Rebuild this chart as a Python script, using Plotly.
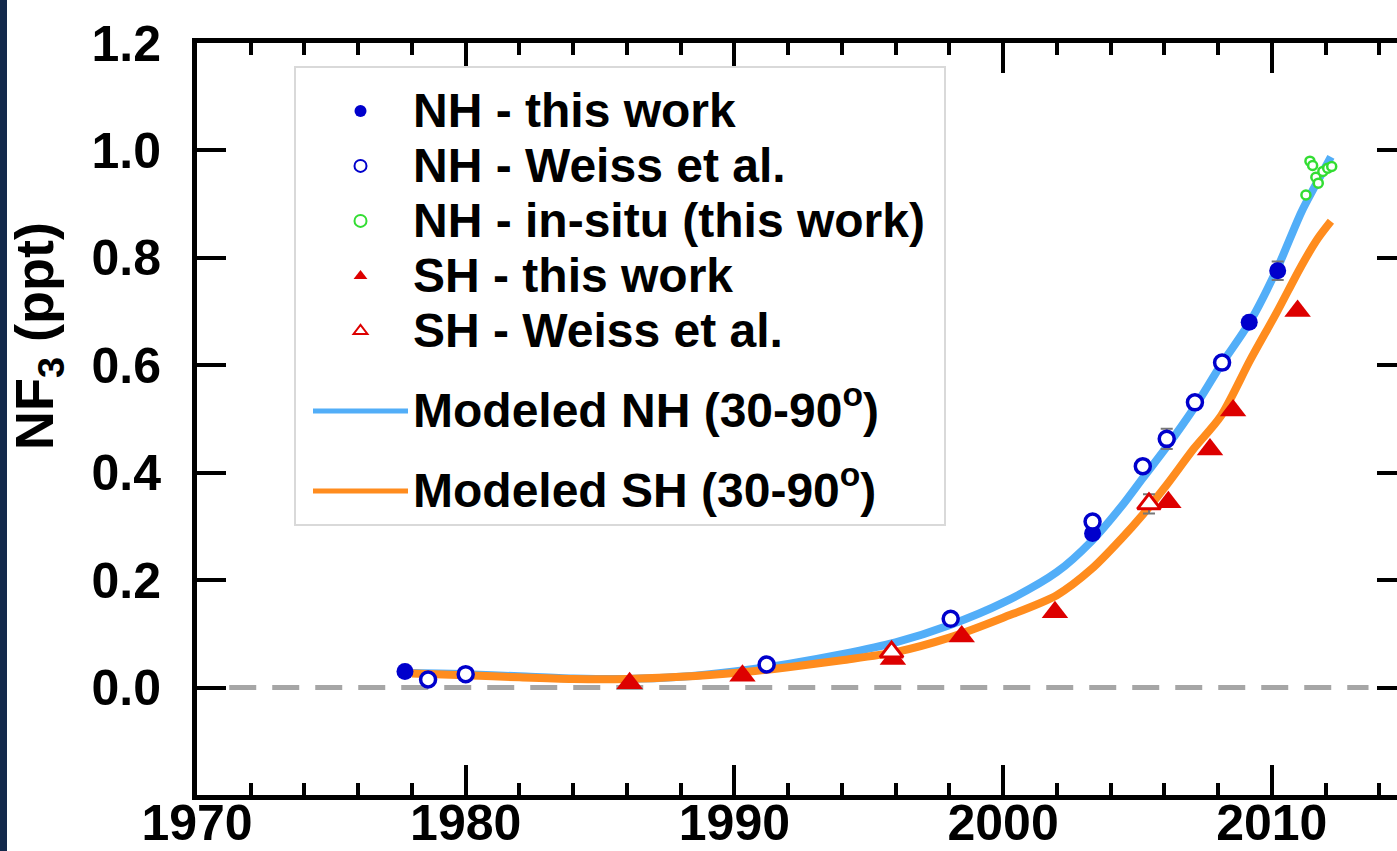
import plotly.graph_objects as go

# ---------------- data ----------------
nh_this_year = [1977.74, 2003.33, 2009.16, 2010.22]
nh_this_val = [0.030, 0.287, 0.680, 0.776]
nh_this_err = [0.0, 0.0, 0.0, 0.017]

nh_weiss_year = [1978.6, 1980.0, 1991.2, 1998.05, 2003.33, 2005.2, 2006.09, 2007.14, 2008.15]
nh_weiss_val = [0.015, 0.025, 0.043, 0.128, 0.309, 0.412, 0.463, 0.531, 0.605]
nh_weiss_err = [0.0, 0.0, 0.0, 0.0, 0.0, 0.012, 0.019, 0.0, 0.0]

nh_insitu_year = [2011.27, 2011.42, 2011.52, 2011.64, 2011.73, 2011.90, 2012.08, 2012.23]
nh_insitu_val = [0.917, 0.980, 0.972, 0.950, 0.939, 0.961, 0.967, 0.970]

sh_this_year = [1986.1, 1990.3, 1995.9, 1998.46, 2001.93, 2006.15, 2007.7, 2008.56, 2010.96]
sh_this_val = [0.008, 0.022, 0.053, 0.095, 0.140, 0.345, 0.443, 0.516, 0.701]

sh_weiss_year = [1995.85, 2005.43]
sh_weiss_val = [0.066, 0.342]
sh_weiss_err = [0.0, 0.018]

model_year = [1978.0, 1980.0, 1982.0, 1984.0, 1986.0, 1988.0, 1990.0, 1992.0, 1994.0,
              1996.0, 1998.0, 2000.0, 2002.0, 2003.3, 2004.4, 2005.2, 2006.1, 2007.1,
              2008.1, 2009.2, 2010.2, 2011.1, 2011.7, 2012.2]
nh_model = [0.027, 0.025, 0.021, 0.017, 0.016, 0.020, 0.030, 0.044, 0.062,
            0.084, 0.116, 0.158, 0.215, 0.273, 0.337, 0.390, 0.449, 0.520,
            0.600, 0.682, 0.780, 0.885, 0.942, 0.988]
sh_model = [0.026, 0.023, 0.019, 0.016, 0.016, 0.020, 0.027, 0.038, 0.051,
            0.066, 0.093, 0.130, 0.172, 0.221, 0.277, 0.322, 0.378, 0.445,
            0.505, 0.610, 0.700, 0.785, 0.835, 0.868]

x_ticks = [1970, 1980, 1990, 2000, 2010]
y_ticks = [0.0, 0.2, 0.4, 0.6, 0.8, 1.0, 1.2]
y_ticktext = ["0.0", "0.2", "0.4", "0.6", "0.8", "1.0", "1.2"]

names = ["NH - this work", "NH - Weiss et al.", "NH - in-situ (this work)\u00a0",
         "SH - this work", "SH - Weiss et al.",
         "Modeled NH (30-90<sup>o</sup>)", "Modeled SH (30-90<sup>o</sup>)"]

FONT = "Liberation Sans"
BLUE = "#0000CC"
RED = "#DD0000"
GREEN = "#33DD33"
LBLUE = "#52AEF8"
ORANGE = "#FF8C1E"


def lg(t):
    return "<span style='font-size:48px'>" + t + "</span>"


fig = go.Figure()

# model curves (drawn first so markers sit on top)
fig.add_trace(go.Scatter(x=model_year, y=nh_model, mode="lines", name=lg(names[5]),
                         line=dict(color=LBLUE, width=8, shape="spline", smoothing=0.8),
                         legendgroup="nh", legendrank=6))
fig.add_trace(go.Scatter(x=model_year, y=sh_model, mode="lines", name=lg(names[6]),
                         line=dict(color=ORANGE, width=8, shape="spline", smoothing=0.8),
                         legendgroup="sh", legendrank=7))

err_style = dict(type="data", color="#777777", thickness=2, width=6)

fig.add_trace(go.Scatter(x=nh_this_year, y=nh_this_val, mode="markers", name=lg(names[0]),
                         marker=dict(symbol="circle", size=17, color=BLUE, line=dict(width=0)),
                         error_y=dict(array=nh_this_err, **err_style),
                         legendgroup="m", legendrank=1))
fig.add_trace(go.Scatter(x=nh_weiss_year, y=nh_weiss_val, mode="markers", name=lg(names[1]),
                         marker=dict(symbol="circle", size=15, color="white",
                                     line=dict(width=3.5, color=BLUE)),
                         error_y=dict(array=nh_weiss_err, **err_style),
                         legendgroup="m", legendrank=2))
fig.add_trace(go.Scatter(x=nh_insitu_year, y=nh_insitu_val, mode="markers", name=lg(names[2]),
                         marker=dict(symbol="circle", size=9, color="white",
                                     line=dict(width=2.5, color=GREEN)),
                         legendgroup="m", legendrank=3))
fig.add_trace(go.Scatter(x=sh_this_year, y=sh_this_val, mode="markers", name=lg(names[3]),
                         marker=dict(symbol="triangle-up", size=23, color=RED, line=dict(width=0)),
                         legendgroup="m", legendrank=4))
fig.add_trace(go.Scatter(x=sh_weiss_year, y=sh_weiss_val, mode="markers", name=lg(names[4]),
                         marker=dict(symbol="triangle-up", size=20, color="white",
                                     line=dict(width=3, color=RED)),
                         error_y=dict(array=sh_weiss_err, **err_style),
                         legendgroup="m", legendrank=5))

# empty trace to activate the right-hand tick axis
fig.add_trace(go.Scatter(x=[], y=[], yaxis="y2", showlegend=False, hoverinfo="skip"))

# dashed zero reference line
fig.add_shape(type="line", xref="x", yref="y", x0=1971.2, x1=2013.6, y0=0, y1=0,
              line=dict(color="#A6A6A6", width=5, dash="27px,16px"), layer="below")

# dark stripe at the left edge of the picture
fig.add_shape(type="rect", xref="paper", yref="paper",
              x0=-197 / 1200, x1=-190 / 1200, y0=-56 / 752, y1=1 + 43 / 752,
              fillcolor="#13294B", line=dict(width=0), layer="above")

tickfont = dict(family=FONT, size=50, color="black", weight="bold")

fig.update_layout(
    width=1397, height=851,
    margin=dict(l=197, r=0, t=43, b=56, pad=0, autoexpand=False),
    paper_bgcolor="white", plot_bgcolor="white",
    font=dict(family=FONT, color="black"),
    xaxis=dict(range=[1970, 2014.66], tickvals=x_ticks, ticks="inside", ticklen=30,
               tickwidth=4, tickcolor="black", showline=True, linewidth=5,
               linecolor="black", mirror="ticks", showgrid=False, zeroline=False,
               minor=dict(dtick=2, tick0=1970, ticks="inside", ticklen=12, tickwidth=4,
                          tickcolor="black", showgrid=False),
               tickfont=tickfont, automargin=False, ticklabelstandoff=-20),
    yaxis=dict(range=[-0.2, 1.2], tickvals=y_ticks, ticktext=y_ticktext, ticks="inside",
               ticklen=29, tickwidth=4, tickcolor="black", showline=True, linewidth=5,
               linecolor="black", showgrid=False, zeroline=False, tickfont=tickfont,
               ticklabelstandoff=21, automargin=False),
    yaxis2=dict(range=[-0.2, 1.2], overlaying="y", side="right", tickvals=y_ticks,
                ticks="inside", ticklen=20, tickwidth=4, tickcolor="black",
                showline=False, showticklabels=False, showgrid=False, zeroline=False,
                automargin=False),
    legend=dict(x=97 / 1200, y=1 - 23 / 752, xanchor="left", yanchor="top",
                bgcolor="white", bordercolor="#D9D9D9", borderwidth=2,
                font=dict(family=FONT, size=40, color="black", weight="bold"),
                title=dict(text="\u00a0", font=dict(size=8)),
                itemsizing="constant", itemwidth=95, indentation=12,
                tracegroupgap=25, traceorder="grouped"),
    annotations=[dict(text="NF<sub>3</sub> (ppt)", xref="paper", yref="paper",
                      x=(38 - 197) / 1200, y=1 - (336 - 43) / 752, xanchor="center",
                      yanchor="middle", textangle=-90, showarrow=False,
                      font=dict(family=FONT, size=54, color="black", weight="bold"))],
)

fig.write_html("out.html")
